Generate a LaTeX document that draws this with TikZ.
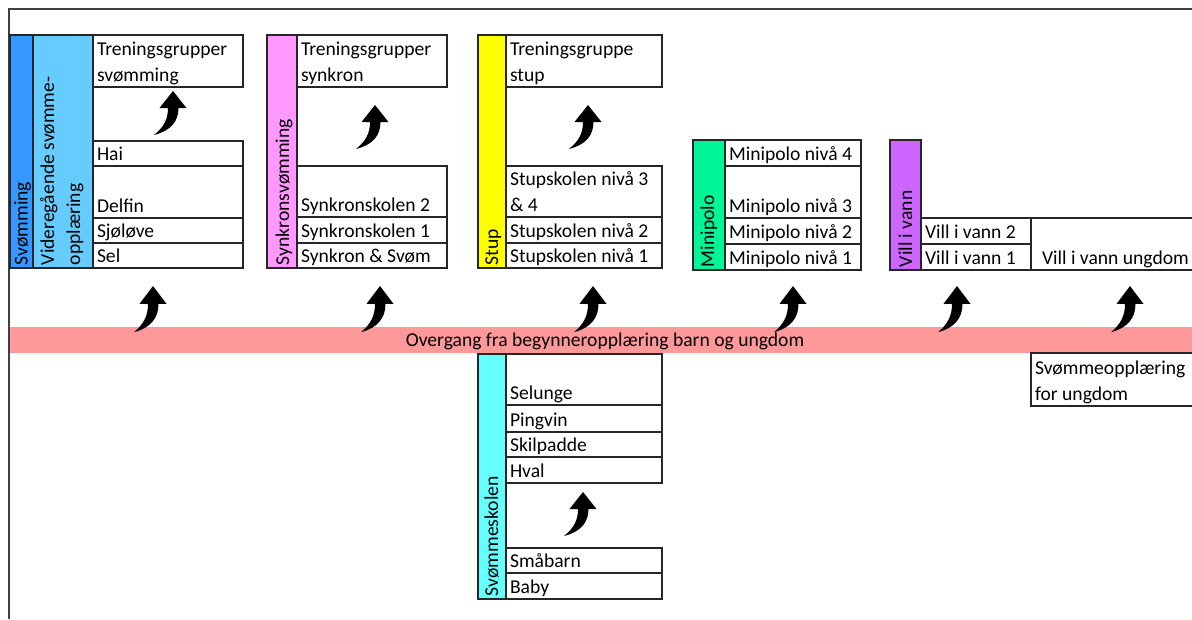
\documentclass[tikz,border=0pt]{standalone}
\usepackage{fontspec}
\setmainfont{Carlito}
\definecolor{svblue}{HTML}{3399FF}
\definecolor{vgblue}{HTML}{66CCFF}
\definecolor{sypink}{HTML}{FF99FF}
\definecolor{styellow}{HTML}{FFFF00}
\definecolor{mpgreen}{HTML}{00F596}
\definecolor{vvpurple}{HTML}{CC66FF}
\definecolor{skcyan}{HTML}{66FFFF}
\definecolor{bandpink}{HTML}{FF9999}
\definecolor{framegray}{HTML}{404040}
\definecolor{linegray}{HTML}{262626}
\tikzset{
  cell/.style={draw=linegray, line width=0.9pt, fill=white, inner sep=0pt, outer sep=0pt},
  lbl/.style={anchor=base west, inner sep=0pt, outer sep=0pt, text=black},
  bigarrow/.style={fill=black},
}
\newcommand\mkbox[6][white]{\node[cell, fill=#1, minimum width={(#5-#3)*0.75pt}, minimum height={(#6-#4)*0.75pt}] (#2) at ({(#3+#5)/2},{(#4+#6)/2}) {};}
\newcommand\mktext[4]{\node[lbl] (#1) at (#2,#3) {#4};}
\newcommand\mkvtext[4]{\node[lbl, rotate=90] (#1) at (#2,#3) {#4};}
\newcommand\mkarrow[3][1]{\fill[bigarrow, shift={(#2,#3)}, yscale=#1] (0,0) -- (13.5,17) -- (5.5,17) .. controls (5.5,31) and (-3,40) .. (-19,44) .. controls (-9,36) and (-5,28) .. (-5,17) -- (-13.5,17) -- cycle;}
\begin{document}
\begin{tikzpicture}[x=0.75pt, y=-0.75pt, every node/.style={font=\fontsize{14.7pt}{19.5pt}\selectfont}]
\useasboundingbox (0,0) rectangle (1192,619);
\begin{scope}
\clip (0,0) rectangle (1192,619);
% frame
\draw[framegray, line width=1.3pt] (9,619) -- (9,9) -- (1192,9);
% band
\node[fill=bandpink, inner sep=0pt, outer sep=0pt, minimum width={(1192-10)*0.75pt}, minimum height={26*0.75pt}] (band) at ({(10+1192)/2},340) {};
\node[anchor=base, inner sep=0pt] (bandtxt) at (605,346) {Overgang fra begynneropplæring barn og ungdom};

% ---- Svømming
\mkbox[svblue]{svcol}{10}{35}{33}{268}
\mkbox[vgblue]{vgcol}{33}{35}{93}{268}
\mkvtext{svlbl}{27.5}{265}{Svømming}
\mkvtext{vglbl1}{54}{265}{Videregående svømme-}
\mkvtext{vglbl2}{80}{265}{opplæring}
\mkbox{tsv}{93}{35}{243}{87}
\mkbox{hai}{93}{141}{243}{166}
\mkbox{delfin}{93}{166}{243}{218}
\mkbox{sjolove}{93}{218}{243}{243}
\mkbox{sel}{93}{243}{243}{268}
\mktext{tsvA}{97}{55}{Treningsgrupper}
\mktext{tsvB}{97}{81}{svømming}
\mktext{haiT}{97}{160}{Hai}
\mktext{delfinT}{97}{212}{Delfin}
\mktext{sjoloveT}{97}{237}{Sjøløve}
\mktext{selT}{97}{262}{Sel}

% ---- Synkron
\mkbox[sypink]{sycol}{267}{35}{297}{268}
\mkvtext{sylbl}{289}{265}{Synkronsvømming}
\mkbox{tsy}{297}{35}{447}{87}
\mkbox{syk2}{297}{166}{447}{217}
\mkbox{syk1}{297}{217}{447}{243}
\mkbox{sysv}{297}{243}{447}{268}
\mktext{tsyA}{301}{55}{Treningsgrupper}
\mktext{tsyB}{301}{81}{synkron}
\mktext{syk2T}{301}{211}{Synkronskolen 2}
\mktext{syk1T}{301}{237}{Synkronskolen 1}
\mktext{sysvT}{301}{262}{Synkron \& Svøm}

% ---- Stup
\mkbox[styellow]{stcol}{478}{35}{506}{268}
\mkvtext{stlbl}{498}{265}{Stup}
\mkbox{tst}{506}{35}{662}{87}
\mkbox{st34}{506}{166}{662}{217}
\mkbox{st2}{506}{217}{662}{243}
\mkbox{st1}{506}{243}{662}{268}
\mktext{tstA}{510}{55}{Treningsgruppe}
\mktext{tstB}{510}{81}{stup}
\mktext{st34A}{510}{185}{Stupskolen nivå 3}
\mktext{st34B}{510}{211}{\& 4}
\mktext{st2T}{510}{237}{Stupskolen nivå 2}
\mktext{st1T}{510}{262}{Stupskolen nivå 1}

% ---- Minipolo
\mkbox[mpgreen]{mpcol}{693}{140}{725}{270}
\mkvtext{mplbl}{714}{267}{Minipolo}
\mkbox{mp4}{725}{140}{861}{166}
\mkbox{mp3}{725}{166}{861}{218}
\mkbox{mp2}{725}{218}{861}{244}
\mkbox{mp1}{725}{244}{861}{270}
\mktext{mp4T}{729}{160}{Minipolo nivå 4}
\mktext{mp3T}{729}{212}{Minipolo nivå 3}
\mktext{mp2T}{729}{238}{Minipolo nivå 2}
\mktext{mp1T}{729}{264}{Minipolo nivå 1}

% ---- Vill i vann
\mkbox[vvpurple]{vvcol}{890}{140}{921}{270}
\mkvtext{vvlbl}{912}{267}{Vill i vann}
\mkbox{vv2}{921}{218}{1031}{244}
\mkbox{vv1}{921}{244}{1031}{270}
\mkbox{vvu}{1031}{218}{1196}{270}
\mktext{vv2T}{925}{238}{Vill i vann 2}
\mktext{vv1T}{925}{264}{Vill i vann 1}
\mktext{vvuT}{1042}{264}{Vill i vann ungdom}

% ---- Svømmeskolen
\mkbox[skcyan]{skcol}{478}{354}{506}{599}
\mkvtext{sklbl}{498}{596}{Svømmeskolen}
\mkbox{selunge}{506}{354}{662}{405}
\mkbox{pingvin}{506}{405}{662}{432}
\mkbox{skilpadde}{506}{432}{662}{457}
\mkbox{hval}{506}{457}{662}{483}
\mkbox{smabarn}{506}{548}{662}{573}
\mkbox{baby}{506}{573}{662}{599}
\mktext{selungeT}{510}{399}{Selunge}
\mktext{pingvinT}{510}{426}{Pingvin}
\mktext{skilpaddeT}{510}{451}{Skilpadde}
\mktext{hvalT}{510}{477}{Hval}
\mktext{smabarnT}{510}{567}{Småbarn}
\mktext{babyT}{510}{593}{Baby}

% ---- Svømmeopplæring for ungdom
\mkbox{sou}{1031}{353}{1196}{406}
\mktext{souA}{1035}{374}{Svømmeopplæring}
\mktext{souB}{1035}{400}{for ungdom}

% ---- arrows
\mkarrow{173}{91}
\mkarrow{375}{105}
\mkarrow{588}{105}
\mkarrow{583}{492}
\mkarrow[1.05]{153}{286}
\mkarrow[1.05]{380}{286}
\mkarrow[1.05]{593}{286}
\mkarrow[1.05]{793}{286}
\mkarrow[1.05]{957}{286}
\mkarrow[1.05]{1130}{286}
\end{scope}
\end{tikzpicture}
\end{document}
